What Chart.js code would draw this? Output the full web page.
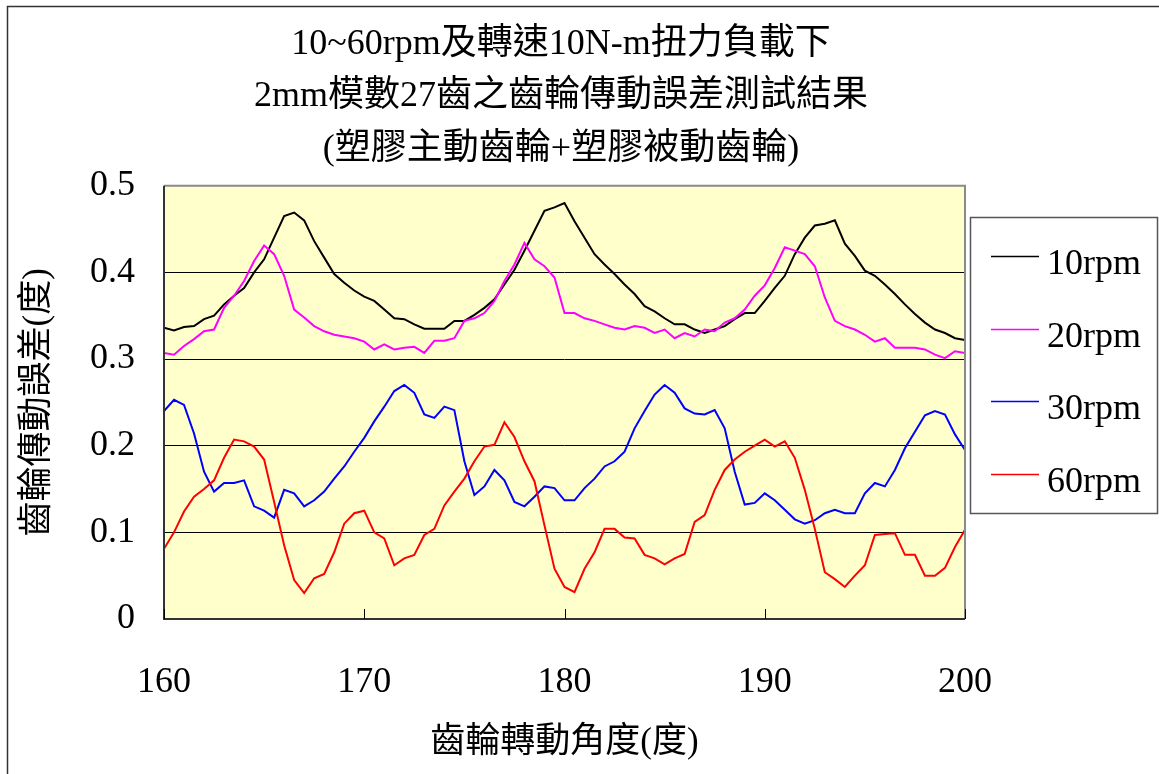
<!DOCTYPE html>
<html>
<head>
<meta charset="utf-8">
<title>齒輪傳動誤差測試結果</title>
<script src="https://cdn.jsdelivr.net/npm/chart.js@4"></script>
<style>
  html, body { margin: 0; padding: 0; background: #fff; overflow: hidden; }
  #wrap { width: 1159px; height: 774px; position: relative; }
</style>
</head>
<body>
<div id="wrap"><canvas id="chart"></canvas></div>
<script>
// angle of the gear (deg), read every 0.5 deg
const angles = [
  160, 160.5, 161, 161.5, 162, 162.5, 163, 163.5, 164, 164.5,
  165, 165.5, 166, 166.5, 167, 167.5, 168, 168.5, 169, 169.5,
  170, 170.5, 171, 171.5, 172, 172.5, 173, 173.5, 174, 174.5,
  175, 175.5, 176, 176.5, 177, 177.5, 178, 178.5, 179, 179.5,
  180, 180.5, 181, 181.5, 182, 182.5, 183, 183.5, 184, 184.5,
  185, 185.5, 186, 186.5, 187, 187.5, 188, 188.5, 189, 189.5,
  190, 190.5, 191, 191.5, 192, 192.5, 193, 193.5, 194, 194.5,
  195, 195.5, 196, 196.5, 197, 197.5, 198, 198.5, 199, 199.5, 200
];

const seriesNames = ['10rpm', '20rpm', '30rpm', '60rpm'];

const rpm10 = [
  0.336, 0.333, 0.337, 0.338, 0.346, 0.350, 0.363, 0.373, 0.382, 0.400,
  0.415, 0.440, 0.465, 0.469, 0.460, 0.436, 0.417, 0.398, 0.388, 0.379,
  0.372, 0.367, 0.357, 0.347, 0.346, 0.340, 0.335, 0.335, 0.335, 0.344,
  0.344, 0.351, 0.359, 0.369, 0.386, 0.403, 0.425, 0.448, 0.471, 0.475,
  0.480, 0.459, 0.440, 0.421, 0.409, 0.398, 0.386, 0.375, 0.361, 0.355,
  0.347, 0.340, 0.340, 0.334, 0.330, 0.334, 0.338, 0.346, 0.353, 0.353,
  0.367, 0.382, 0.396, 0.421, 0.440, 0.454, 0.456, 0.460, 0.433, 0.419,
  0.402, 0.396, 0.386, 0.375, 0.363, 0.352, 0.342, 0.334, 0.330, 0.324, 0.322
];

const rpm20 = [
  0.307, 0.305, 0.315, 0.323, 0.332, 0.334, 0.359, 0.373, 0.390, 0.413,
  0.431, 0.421, 0.396, 0.357, 0.348, 0.338, 0.332, 0.328, 0.326, 0.324,
  0.320, 0.311, 0.317, 0.311, 0.313, 0.314, 0.307, 0.321, 0.321, 0.324,
  0.344, 0.347, 0.353, 0.367, 0.390, 0.409, 0.434, 0.415, 0.407, 0.394,
  0.353, 0.353, 0.347, 0.344, 0.340, 0.336, 0.334, 0.338, 0.336, 0.330,
  0.334, 0.324, 0.330, 0.326, 0.334, 0.332, 0.342, 0.347, 0.357, 0.373,
  0.385, 0.405, 0.429, 0.425, 0.421, 0.407, 0.371, 0.344, 0.338, 0.334,
  0.328, 0.320, 0.324, 0.313, 0.313, 0.313, 0.311, 0.305, 0.301, 0.309, 0.307
];

const rpm30 = [
  0.240, 0.253, 0.247, 0.214, 0.170, 0.147, 0.157, 0.157, 0.160, 0.130,
  0.125, 0.117, 0.149, 0.145, 0.130, 0.137, 0.147, 0.162, 0.176, 0.193,
  0.209, 0.228, 0.245, 0.263, 0.270, 0.261, 0.236, 0.232, 0.245, 0.241,
  0.182, 0.143, 0.153, 0.172, 0.160, 0.135, 0.130, 0.141, 0.153, 0.151,
  0.137, 0.137, 0.151, 0.162, 0.176, 0.182, 0.193, 0.220, 0.240, 0.259,
  0.270, 0.261, 0.243, 0.237, 0.236, 0.241, 0.220, 0.170, 0.132, 0.134,
  0.145, 0.137, 0.126, 0.115, 0.110, 0.114, 0.122, 0.126, 0.122, 0.122,
  0.145, 0.157, 0.153, 0.172, 0.197, 0.216, 0.235, 0.240, 0.236, 0.213, 0.195
];

const rpm60 = [
  0.081, 0.100, 0.124, 0.141, 0.150, 0.160, 0.186, 0.207, 0.205, 0.199,
  0.184, 0.135, 0.085, 0.045, 0.030, 0.047, 0.052, 0.077, 0.110, 0.122,
  0.125, 0.100, 0.093, 0.062, 0.070, 0.074, 0.097, 0.104, 0.131, 0.147,
  0.162, 0.182, 0.199, 0.201, 0.227, 0.210, 0.182, 0.159, 0.108, 0.058,
  0.037, 0.031, 0.058, 0.077, 0.104, 0.104, 0.094, 0.093, 0.074, 0.070,
  0.063, 0.070, 0.075, 0.112, 0.120, 0.149, 0.172, 0.184, 0.193, 0.200,
  0.207, 0.199, 0.205, 0.186, 0.149, 0.104, 0.054, 0.046, 0.037, 0.050,
  0.062, 0.097, 0.098, 0.099, 0.074, 0.074, 0.050, 0.050, 0.059, 0.083, 0.103
];

const xTickLabels = ['160', '170', '180', '190', '200'];
const yTickLabels = ['0', '0.1', '0.2', '0.3', '0.4', '0.5'];

const FONT = '"Liberation Serif", "Noto Sans CJK TC", serif';
const colors = ['#000000', '#FF00FF', '#0000FF', '#FF0000'];

function points(values) {
  return angles.map((a, i) => ({ x: a, y: values[i] }));
}

// white page, outer frame and yellow plot background
const backdrop = {
  id: 'backdrop',
  beforeDraw(chart) {
    const { ctx, chartArea: a } = chart;
    ctx.save();
    ctx.fillStyle = '#ffffff';
    ctx.fillRect(0, 0, chart.width, chart.height);
    ctx.strokeStyle = '#333333';
    ctx.lineWidth = 1.5;
    ctx.strokeRect(7.5, 6.5, chart.width + 20, chart.height + 20);
    ctx.fillStyle = '#FFFFCC';
    ctx.fillRect(a.left, a.top, a.right - a.left, a.bottom - a.top);
    ctx.restore();
  }
};

// plot border, axis lines, inward ticks and the boxed legend
const frame = {
  id: 'frame',
  afterDraw(chart) {
    const { ctx, chartArea: a } = chart;
    const xs = chart.scales.x;
    ctx.save();
    ctx.strokeStyle = '#8a8a8a';
    ctx.lineWidth = 2;
    ctx.beginPath();
    ctx.moveTo(a.left, a.top);
    ctx.lineTo(a.right, a.top);
    ctx.lineTo(a.right, a.bottom);
    ctx.stroke();
    ctx.strokeStyle = '#333333';
    ctx.beginPath();
    ctx.moveTo(a.left, a.top);
    ctx.lineTo(a.left, a.bottom);
    ctx.lineTo(a.right, a.bottom);
    ctx.stroke();
    ctx.lineWidth = 1;
    ctx.strokeStyle = '#000000';
    xs.ticks.forEach(t => {
      const px = Math.round(xs.getPixelForValue(t.value)) + 0.5;
      ctx.beginPath();
      ctx.moveTo(px, a.bottom);
      ctx.lineTo(px, a.bottom - 10);
      ctx.stroke();
    });

    // legend
    const lx = 970.5, ly = 217.5, lw = 187, lh = 296;
    ctx.fillStyle = '#ffffff';
    ctx.fillRect(lx, ly, lw, lh);
    ctx.strokeStyle = '#555555';
    ctx.lineWidth = 1.5;
    ctx.strokeRect(lx, ly, lw, lh);
    ctx.font = '36px ' + FONT;
    ctx.textAlign = 'left';
    ctx.textBaseline = 'alphabetic';
    chart.data.datasets.forEach((ds, i) => {
      const y = Math.round(256 + i * 72.7) + 0.5;
      ctx.strokeStyle = ds.borderColor;
      ctx.lineWidth = 1.5;
      ctx.beginPath();
      ctx.moveTo(991, y);
      ctx.lineTo(1039, y);
      ctx.stroke();
      ctx.fillStyle = '#000000';
      ctx.fillText(ds.label, 1047, y + 17);
    });
    ctx.restore();
  }
};

new Chart(document.getElementById('chart'), {
  type: 'line',
  data: {
    datasets: [rpm10, rpm20, rpm30, rpm60].map((vals, i) => ({
      label: seriesNames[i],
      data: points(vals),
      borderColor: colors[i],
      backgroundColor: colors[i],
      borderWidth: 2,
      pointRadius: 0,
      tension: 0,
      fill: false,
      order: 4 - i
    }))
  },
  options: {
    responsive: true,
    maintainAspectRatio: false,
    animation: false,
    events: [],
    layout: { padding: { top: 7, left: 8, right: 45, bottom: 0 } },
    plugins: {
      legend: { display: false },
      tooltip: { enabled: false },
      title: {
        display: true,
        text: [
          '10~60rpm及轉速10N-m扭力負載下',
          '2mm模數27齒之齒輪傳動誤差測試結果',
          '(塑膠主動齒輪+塑膠被動齒輪)'
        ],
        color: '#000',
        font: { family: FONT, size: 36, weight: 'normal', lineHeight: 1.46 },
        padding: { top: 11, bottom: 10 }
      }
    },
    scales: {
      x: {
        type: 'linear',
        min: 160,
        max: 200,
        afterFit: s => { s.height = 155; },
        ticks: {
          stepSize: 10,
          padding: 42,
          color: '#000',
          maxRotation: 0,
          font: { family: FONT, size: 36 },
          callback: v => xTickLabels[Math.round((v - 160) / 10)]
        },
        grid: { display: false, drawTicks: false },
        border: { display: false },
        title: {
          display: true,
          text: '齒輪轉動角度(度)',
          color: '#000',
          font: { family: FONT, size: 35 },
          padding: { top: 0, bottom: 10 }
        }
      },
      y: {
        min: 0,
        max: 0.5,
        afterFit: s => { s.width = 156; },
        ticks: {
          stepSize: 0.1,
          padding: 29,
          color: '#000',
          font: { family: FONT, size: 36 },
          callback: v => yTickLabels[Math.round(v * 10)]
        },
        grid: { color: '#000000', lineWidth: 1, drawTicks: false },
        border: { display: false },
        title: {
          display: true,
          text: '齒輪傳動誤差(度)',
          color: '#000',
          font: { family: FONT, size: 35 },
          padding: { top: 9, bottom: 0 }
        }
      },
      // empty right-hand strip that leaves room for the boxed legend
      legendSpace: {
        type: 'linear',
        position: 'right',
        afterFit: s => { s.width = 149; },
        ticks: { display: false },
        grid: { display: false, drawTicks: false },
        border: { display: false }
      }
    }
  },
  plugins: [backdrop, frame]
});
</script>
</body>
</html>
